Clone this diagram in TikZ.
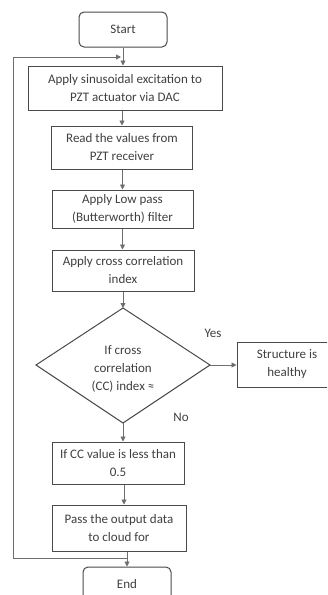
\documentclass[tikz,border=0pt]{standalone}
\usepackage{fontspec}
\setmainfont{Carlito}
\usetikzlibrary{arrows.meta}
\definecolor{edge}{HTML}{4A4A4A}
\definecolor{wire}{HTML}{6E6E6E}
\definecolor{txt}{HTML}{404040}
\begin{document}
\begin{tikzpicture}[x=1pt,y=-1pt,
  every node/.style={font=\fontsize{13}{18}\selectfont, text=txt, align=center, inner sep=0pt},
  procbox/.style={draw=edge, line width=1pt, rectangle},
  termbox/.style={draw=edge, line width=1pt, rectangle, rounded corners=5pt},
  flow/.style={draw=wire, line width=0.9pt, -{Triangle[length=5pt,width=5pt]}},
  wireline/.style={draw=wire, line width=0.9pt},
  lbl/.style={}]
\clip (0,0) rectangle (327,595);
\fill[white] (0,0) rectangle (327,595);

\node[termbox, minimum width=88pt, minimum height=35pt] (start) at (123,29.5) {Start};
\node[procbox, minimum width=194pt, minimum height=44pt] (b1) at (125,88) {Apply sinusoidal excitation to\\PZT actuator via DAC};
\node[procbox, minimum width=141pt, minimum height=43pt] (b2) at (122,147.5) {Read the values from\\PZT receiver};
\node[procbox, minimum width=141pt, minimum height=38pt] (b3) at (122.5,209) {Apply Low pass\\(Butterworth) filter};
\node[procbox, minimum width=142pt, minimum height=41pt] (b4) at (123,270.5) {Apply cross correlation\\index};

\coordinate (dt) at (123,308);
\coordinate (dr) at (210,365);
\coordinate (db) at (123,423);
\coordinate (dl) at (36,365);
\draw[edge, line width=1pt] (dt) -- (dr) -- (db) -- (dl) -- cycle;
\node (dtext) at (123,369) {If cross\\correlation\\(CC) index ≈};

\node[procbox, minimum width=100pt, minimum height=45pt] (sbox) at (287,364.5) {Structure is\\healthy};
\node[lbl] (yes) at (213,333) {Yes};
\node[lbl] (no) at (181,417) {No};

\node[procbox, minimum width=132pt, minimum height=42pt] (b5) at (118,463) {If CC value is less than\\0.5};
\node[procbox, minimum width=134pt, minimum height=46pt] (b6) at (119,528) {Pass the output data\\to cloud for};
\node[termbox, minimum width=88pt, minimum height=35pt] (end) at (127,584.5) {End};

\coordinate (jbot) at (127,558);
\coordinate (lbot) at (13,558);
\coordinate (ltop) at (13,57);
\coordinate (ltip) at (121,57);

\draw[flow] (start.south) -- (start.south |- b1.north);
\draw[flow] (b2.north |- b1.south) -- (b2.north);
\draw[flow] (b3.north |- b2.south) -- (b3.north);
\draw[flow] (b3.south) -- (b3.south |- b4.north);
\draw[flow] (b4.south) -- (dt);
\draw[flow] (dr) -- (dr -| sbox.west);
\draw[flow] (db) -- (db |- b5.north);
\draw[flow] ([xshift=6pt]b5.south) -- ([xshift=6pt]b5.south |- b6.north);
\draw[flow] (jbot |- b6.south) -- (jbot |- end.north);
\draw[wireline] (jbot) -- (lbot);
\draw[flow] (lbot) -- (ltop) -- (ltip);
\end{tikzpicture}
\end{document}
